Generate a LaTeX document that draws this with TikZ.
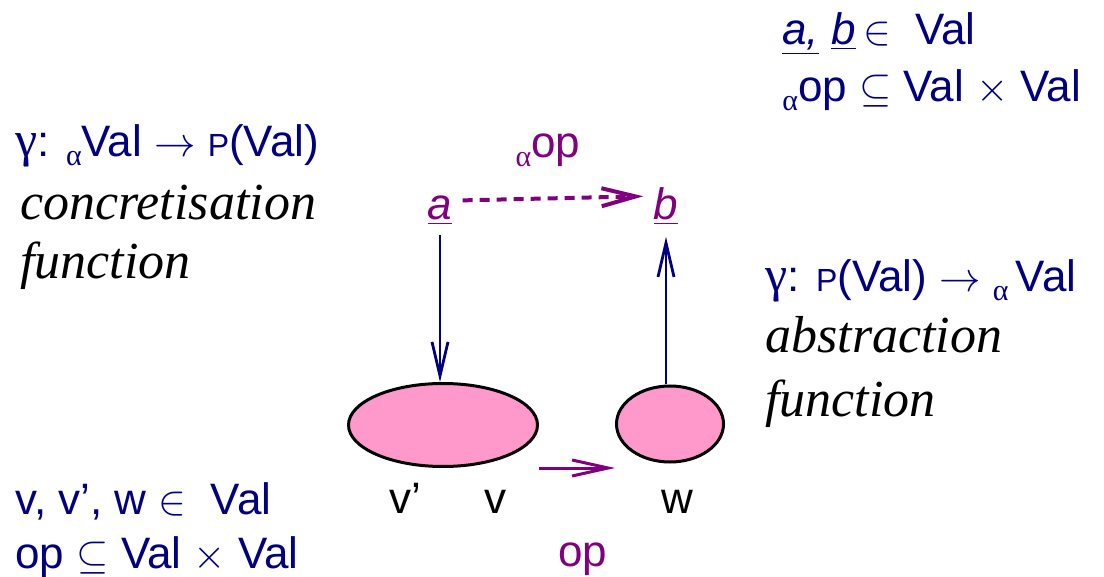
\documentclass[tikz,border=0pt]{standalone}
\usepackage{fontspec}
\setmainfont{Liberation Sans}
\newfontfamily\grk{Liberation Serif}
\usetikzlibrary{arrows.meta,positioning,shapes.geometric}

\definecolor{navy}{RGB}{0,0,128}
\definecolor{plum}{RGB}{128,0,128}
\definecolor{setpink}{RGB}{255,153,204}

\newcommand{\sansbig}{\fontsize{22}{26}\selectfont}
\newcommand{\calit}{\grk\itshape\fontsize{26}{31}\selectfont}
\newcommand{\asub}{\raisebox{-0.35ex}{\grk\fontsize{15}{15}\selectfont α}}
\newcommand{\gam}{{\grk\fontsize{25}{26}\selectfont γ}}
\newcommand{\pw}{{\fontsize{16}{16}\selectfont P}}

\begin{document}
\begin{tikzpicture}[x=0.5pt, y=-0.5pt,
  lbl/.style={anchor=base west, inner sep=0pt, text=navy, font=\sansbig},
  cal/.style={anchor=base west, inner sep=0pt, text=black, font=\calit},
  elt/.style={anchor=base, inner sep=0pt, font=\sansbig},
  setnode/.style={ellipse, draw=black, line width=1.5pt, fill=setpink, inner sep=0pt},
  maparr/.style={-{Straight Barb[length=17pt,width=8pt,line width=1.4pt]}, navy, line width=1pt},
  opdash/.style={-{Straight Barb[length=17pt,width=9pt]}, plum, line width=2pt,
                 dash pattern=on 5pt off 3.5pt},
  oparr/.style={-{Straight Barb[length=18pt,width=8pt]}, plum, line width=1.5pt}
]
\useasboundingbox (0,0) rectangle (1104,577);

% declarations
\node[lbl] (decab) at (782,45) {\underline{\textit{a,}} \underline{\textit{b}}\,$\in$\ \ Val};
\node[lbl] (decaop) at (782,102) {\asub op $\subseteq$ Val $\times$ Val};
\node[lbl] (decv) at (15,514) {v, v’, w $\in$\ \ Val};
\node[lbl] (decop) at (15,568) {op $\subseteq$ Val $\times$ Val};

% concretisation
\node[lbl] (conc) at (15,157) {\gam: \asub Val $\rightarrow$ \pw(Val)};
\node[cal] (conc1) at (20,220) {concretisation};
\node[cal] (conc2) at (20,279) {function};

% abstraction
\node[lbl] (abst) at (765,292) {\gam: \pw(Val) $\rightarrow$ \asub\,Val};
\node[cal] (abst1) at (765,353) {abstraction};
\node[cal] (abst2) at (765,416) {function};

% abstract level
\node[elt, text=plum] (a) at (440,220) {\underline{\textit{a}}};
\node[elt, text=plum] (b) at (666,220) {\underline{\textit{b}}};
\node[elt, text=plum] (aop) at (548,158) {\asub op};

% concrete level
\node[setnode, minimum width=94.5pt, minimum height=41.5pt] (vset) at (443,425) {};
\node[setnode, minimum width=53.5pt, minimum height=38pt] (wset) at (670,424) {};
\node[elt] (v1) at (405,513) {v’};
\node[elt] (v) at (495,513) {v};
\node[elt] (w) at (677,513) {w};
\node[elt, text=plum] (op) at (583,566) {op};

\draw[opdash] ([yshift=5pt]a.east) ++(5pt,0) -- ([yshift=5pt,xshift=-5pt]b.west);
\draw[maparr] ([yshift=-5pt]a.south) -- (a.south |- vset.north);
\draw[maparr] (b.south |- wset.north) -- ([yshift=-6pt]b.south);
\draw[oparr] (vset.east |- vset.south) -- (wset.west |- vset.south);
\end{tikzpicture}
\end{document}
